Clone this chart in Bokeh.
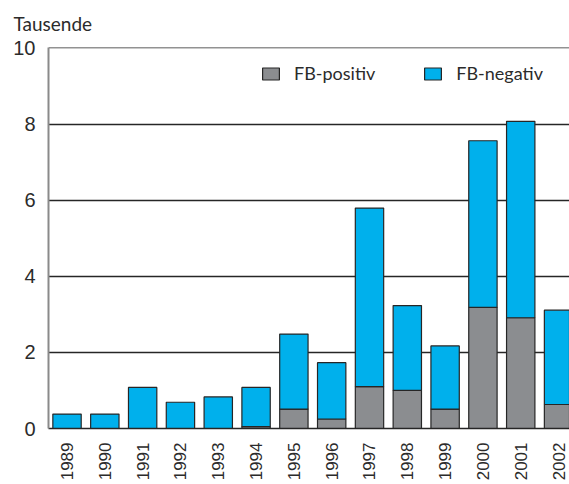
from bokeh.plotting import figure
from bokeh.models import (FixedTicker, Legend, LegendItem, Title, Range1d,
                          ColumnDataSource)
from bokeh.embed import file_html
from bokeh.resources import INLINE

# ---- data -------------------------------------------------------------
years = ["1989", "1990", "1991", "1992", "1993", "1994", "1995",
         "1996", "1997", "1998", "1999", "2000", "2001", "2002"]
fb_positiv = [0.0, 0.0, 0.0, 0.0, 0.0, 0.05, 0.51,
              0.25, 1.10, 1.00, 0.51, 3.18, 2.91, 0.63]
fb_negativ = [0.38, 0.38, 1.08, 0.69, 0.83, 1.03, 1.97,
              1.48, 4.69, 2.23, 1.66, 4.38, 5.16, 2.48]
y_ticks = [0, 2, 4, 6, 8, 10]
series_names = ["FB-positiv", "FB-negativ"]
unit_label = "Tausende"

# ---- styling ----------------------------------------------------------
GRAY = "#8b8d90"
BLUE = "#00b0ec"
EDGE = "#262626"
TEXT = "#2b2b2b"

xpos = list(range(len(years)))
source = ColumnDataSource(dict(x=xpos, pos=fb_positiv, neg=fb_negativ))

p = figure(width=569, height=484, output_backend="svg", toolbar_location=None,
           title=None, x_range=Range1d(-0.49, 13.29), y_range=Range1d(0, 10.01),
           min_border_left=48, min_border_right=0, min_border_top=47,
           min_border_bottom=56)
p.outline_line_color = None
p.background_fill_color = "white"

renderers = p.vbar_stack(["pos", "neg"], x="x", width=0.75, source=source,
                         color=[GRAY, BLUE], line_color=EDGE, line_width=1.2)

# axes
p.xaxis.ticker = FixedTicker(ticks=xpos)
p.xaxis.major_label_overrides = {i: y for i, y in zip(xpos, years)}
p.xaxis.major_label_orientation = 3.14159265 / 2
p.xaxis.major_label_text_font = "Liberation Sans"
p.xaxis.major_label_text_font_size = "17px"
p.xaxis.major_label_text_color = TEXT
p.xaxis.major_label_standoff = 14
p.xaxis.major_tick_out = 0
p.xaxis.major_tick_in = 0
p.xaxis.major_tick_line_color = None
p.xaxis.minor_tick_line_color = None
p.xaxis.axis_line_color = EDGE
p.xaxis.axis_line_width = 1.3

p.yaxis.ticker = FixedTicker(ticks=y_ticks)
p.yaxis.major_label_text_font = "Liberation Sans"
p.yaxis.major_label_text_font_size = "20px"
p.yaxis.major_label_text_color = TEXT
p.yaxis.major_label_standoff = 13
p.yaxis.major_tick_out = 0
p.yaxis.major_tick_in = 0
p.yaxis.major_tick_line_color = None
p.yaxis.minor_tick_line_color = None
p.yaxis.axis_line_color = "#8a8a8a"
p.yaxis.axis_line_width = 2

p.xgrid.grid_line_color = None
p.ygrid.ticker = FixedTicker(ticks=y_ticks[1:])
p.ygrid.grid_line_color = EDGE
p.ygrid.grid_line_width = 1.3
p.ygrid.level = "underlay"

# legend
legend = Legend(items=[LegendItem(label=series_names[0], renderers=[renderers[0]]),
                       LegendItem(label=series_names[1], renderers=[renderers[1]])],
                orientation="horizontal", location=(212, 344),
                glyph_width=21, glyph_height=15, label_height=15,
                label_standoff=13, spacing=47, padding=0, margin=0,
                border_line_color=None, background_fill_alpha=0,
                label_text_font="Lato", label_text_font_size="18px",
                label_text_color=TEXT)
p.add_layout(legend, "center")

p.add_layout(Title(text=unit_label + "\n", align="left", offset=-35, standoff=8,
                   text_line_height=0.35,
                   text_font="Lato", text_font_size="19px",
                   text_font_style="normal", text_color=TEXT), "above")

open("out.html", "w").write(file_html(p, INLINE))
